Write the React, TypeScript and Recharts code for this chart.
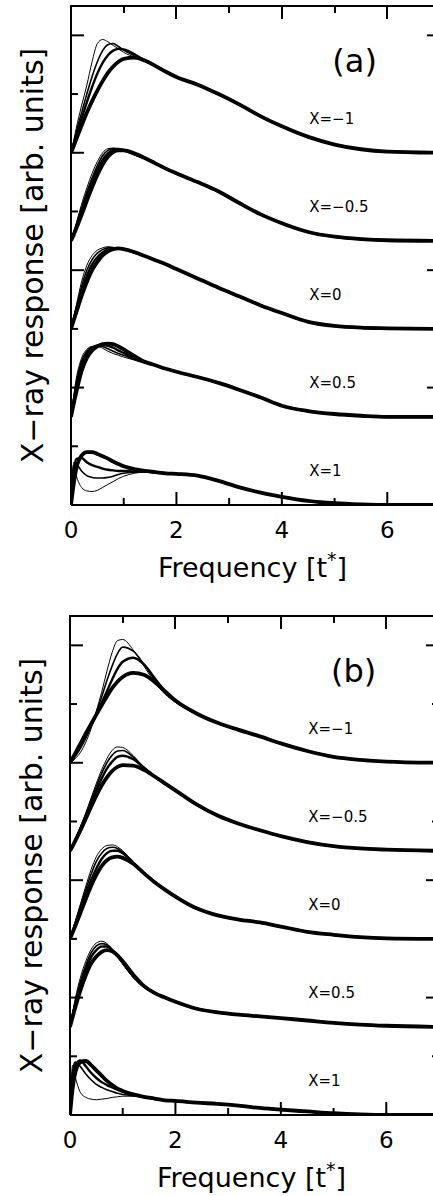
import React from 'react';
import { LineChart, Line, XAxis, YAxis, ReferenceDot } from 'recharts';

// frequency grid [t*]: dense part where the curves differ, then the shared tail
const FREQ_HEAD = [0, 0.05, 0.1, 0.2, 0.3, 0.4, 0.5, 0.6, 0.7, 0.8, 0.9, 1.0, 1.2, 1.4, 1.6, 1.8, 2.0];
const FREQ_TAIL = [2.4, 2.8, 3.2, 3.6, 4.0, 4.5, 5.0, 5.5, 6.0, 7.0];

// vertical offset of each X group (arb. units) and its label
const OFFSETS = [6, 4.5, 3, 1.5, 0];
const GROUP_LABELS = ['X=−1', 'X=−0.5', 'X=0', 'X=0.5', 'X=1'];
const X_TICKS = [0, 1, 2, 3, 4, 5, 6, 7];
const Y_TICKS = [0, 1, 2, 3, 4, 5, 6, 7, 8];
const X_MAX = 7;
const Y_MAX = 8.5;
// thinnest curve first (highest / earliest peak), thickest last
const LINE_WIDTHS = [1, 1.6, 2.4, 3.8];

// ---- panel (a) ----
const A_M1 = [
  [0, 0.2, 0.42, 0.8, 1.15, 1.55, 1.86, 1.93, 1.89, 1.83, 1.77, 1.71, 1.63, 1.56, 1.48, 1.38, 1.29],
  [0, 0.17, 0.35, 0.68, 1.0, 1.3, 1.55, 1.74, 1.84, 1.86, 1.81, 1.75, 1.65, 1.56, 1.48, 1.38, 1.29],
  [0, 0.14, 0.29, 0.58, 0.86, 1.12, 1.35, 1.53, 1.66, 1.74, 1.77, 1.76, 1.68, 1.57, 1.48, 1.38, 1.29],
  [0, 0.11, 0.23, 0.46, 0.68, 0.88, 1.06, 1.22, 1.36, 1.47, 1.55, 1.6, 1.62, 1.57, 1.48, 1.38, 1.29],
];
const A_M1_TAIL = [1.16, 1.0, 0.82, 0.62, 0.45, 0.27, 0.14, 0.06, 0.02, 0];

const A_M05 = [
  [0, 0.15, 0.3, 0.62, 0.9, 1.15, 1.35, 1.5, 1.57, 1.58, 1.56, 1.53, 1.46, 1.4, 1.32, 1.23, 1.15],
  [0, 0.13, 0.27, 0.56, 0.83, 1.07, 1.28, 1.45, 1.54, 1.57, 1.57, 1.54, 1.47, 1.4, 1.32, 1.23, 1.15],
  [0, 0.12, 0.24, 0.5, 0.76, 1.0, 1.21, 1.38, 1.49, 1.55, 1.56, 1.55, 1.48, 1.41, 1.32, 1.23, 1.15],
  [0, 0.1, 0.21, 0.44, 0.68, 0.91, 1.12, 1.3, 1.43, 1.51, 1.54, 1.54, 1.49, 1.41, 1.32, 1.23, 1.15],
];
const A_M05_TAIL = [1.0, 0.84, 0.64, 0.45, 0.3, 0.15, 0.07, 0.03, 0.01, 0];

const A_0 = [
  [0, 0.2, 0.4, 0.8, 1.08, 1.25, 1.34, 1.38, 1.4, 1.39, 1.37, 1.35, 1.29, 1.24, 1.17, 1.1, 1.02],
  [0, 0.18, 0.36, 0.72, 1.0, 1.18, 1.29, 1.35, 1.38, 1.38, 1.37, 1.35, 1.3, 1.24, 1.17, 1.1, 1.02],
  [0, 0.16, 0.32, 0.64, 0.9, 1.1, 1.22, 1.3, 1.35, 1.37, 1.37, 1.36, 1.3, 1.24, 1.17, 1.1, 1.02],
  [0, 0.14, 0.28, 0.56, 0.8, 1.0, 1.14, 1.25, 1.32, 1.36, 1.37, 1.36, 1.31, 1.24, 1.17, 1.1, 1.02],
];
const A_0_TAIL = [0.86, 0.7, 0.55, 0.4, 0.27, 0.12, 0.05, 0.02, 0.01, 0];

const A_05 = [
  [0, 0.35, 0.65, 1.0, 1.15, 1.2, 1.2, 1.17, 1.12, 1.08, 1.05, 1.02, 0.97, 0.92, 0.88, 0.82, 0.77],
  [0, 0.3, 0.58, 0.95, 1.12, 1.19, 1.21, 1.2, 1.16, 1.12, 1.08, 1.05, 0.98, 0.92, 0.88, 0.82, 0.77],
  [0, 0.26, 0.5, 0.88, 1.08, 1.18, 1.22, 1.23, 1.21, 1.18, 1.13, 1.09, 1.0, 0.93, 0.88, 0.82, 0.77],
  [0, 0.22, 0.42, 0.78, 1.0, 1.13, 1.2, 1.24, 1.25, 1.24, 1.2, 1.15, 1.04, 0.94, 0.88, 0.82, 0.77],
];
const A_05_TAIL = [0.68, 0.58, 0.46, 0.33, 0.19, 0.1, 0.05, 0.02, 0, 0];

const A_1 = [
  [0, 0.68, 0.5, 0.3, 0.24, 0.23, 0.25, 0.3, 0.35, 0.4, 0.45, 0.49, 0.54, 0.56, 0.56, 0.54, 0.53],
  [0, 0.72, 0.7, 0.58, 0.5, 0.47, 0.46, 0.46, 0.47, 0.49, 0.52, 0.54, 0.56, 0.57, 0.56, 0.54, 0.53],
  [0, 0.55, 0.78, 0.8, 0.73, 0.68, 0.65, 0.62, 0.6, 0.59, 0.58, 0.58, 0.57, 0.57, 0.56, 0.54, 0.53],
  [0, 0.35, 0.62, 0.84, 0.9, 0.9, 0.87, 0.83, 0.79, 0.74, 0.7, 0.66, 0.61, 0.58, 0.56, 0.54, 0.53],
];
const A_1_TAIL = [0.5, 0.41, 0.3, 0.21, 0.14, 0.07, 0.03, 0.01, 0, 0];

// ---- panel (b) ----
const B_M1 = [
  [0, 0.03, 0.07, 0.18, 0.35, 0.58, 0.88, 1.2, 1.56, 1.88, 2.08, 2.1, 1.92, 1.65, 1.38, 1.17, 1.03],
  [0, 0.05, 0.11, 0.25, 0.42, 0.62, 0.86, 1.12, 1.4, 1.65, 1.86, 1.97, 1.9, 1.68, 1.42, 1.2, 1.04],
  [0, 0.07, 0.14, 0.3, 0.46, 0.63, 0.82, 1.02, 1.22, 1.42, 1.6, 1.72, 1.79, 1.68, 1.45, 1.22, 1.05],
  [0, 0.08, 0.16, 0.33, 0.5, 0.66, 0.82, 0.98, 1.13, 1.27, 1.38, 1.46, 1.53, 1.5, 1.38, 1.22, 1.06],
];
const B_M1_TAIL = [0.84, 0.68, 0.56, 0.45, 0.33, 0.2, 0.1, 0.05, 0.02, 0];

const B_M05 = [
  [0, 0.1, 0.2, 0.42, 0.65, 0.9, 1.15, 1.38, 1.57, 1.71, 1.77, 1.76, 1.62, 1.42, 1.25, 1.13, 1.02],
  [0, 0.09, 0.19, 0.4, 0.62, 0.86, 1.1, 1.32, 1.5, 1.63, 1.7, 1.71, 1.6, 1.42, 1.26, 1.14, 1.03],
  [0, 0.09, 0.18, 0.38, 0.59, 0.81, 1.03, 1.23, 1.4, 1.52, 1.6, 1.62, 1.56, 1.42, 1.27, 1.15, 1.03],
  [0, 0.08, 0.17, 0.35, 0.55, 0.75, 0.94, 1.11, 1.25, 1.36, 1.43, 1.46, 1.45, 1.38, 1.27, 1.15, 1.03],
];
const B_M05_TAIL = [0.79, 0.6, 0.46, 0.35, 0.25, 0.15, 0.08, 0.04, 0.02, 0];

const B_0 = [
  [0, 0.15, 0.3, 0.6, 0.9, 1.18, 1.4, 1.53, 1.59, 1.6, 1.57, 1.5, 1.3, 1.1, 0.96, 0.84, 0.72],
  [0, 0.14, 0.28, 0.56, 0.84, 1.1, 1.32, 1.46, 1.54, 1.56, 1.54, 1.48, 1.3, 1.11, 0.96, 0.84, 0.72],
  [0, 0.12, 0.25, 0.5, 0.76, 1.0, 1.2, 1.36, 1.46, 1.5, 1.5, 1.46, 1.3, 1.12, 0.97, 0.84, 0.72],
  [0, 0.11, 0.22, 0.45, 0.68, 0.9, 1.09, 1.24, 1.34, 1.39, 1.4, 1.38, 1.28, 1.12, 0.97, 0.84, 0.72],
];
const B_0_TAIL = [0.52, 0.4, 0.33, 0.28, 0.21, 0.12, 0.07, 0.03, 0.01, 0];

const B_05 = [
  [0, 0.25, 0.48, 0.85, 1.12, 1.32, 1.43, 1.46, 1.42, 1.32, 1.2, 1.07, 0.84, 0.68, 0.58, 0.5, 0.43],
  [0, 0.22, 0.43, 0.78, 1.05, 1.26, 1.38, 1.42, 1.4, 1.32, 1.2, 1.08, 0.85, 0.68, 0.58, 0.5, 0.43],
  [0, 0.2, 0.38, 0.71, 0.98, 1.19, 1.31, 1.37, 1.37, 1.31, 1.21, 1.1, 0.87, 0.69, 0.58, 0.5, 0.43],
  [0, 0.17, 0.33, 0.63, 0.88, 1.08, 1.2, 1.28, 1.31, 1.29, 1.22, 1.12, 0.89, 0.7, 0.58, 0.5, 0.43],
];
const B_05_TAIL = [0.31, 0.25, 0.21, 0.18, 0.15, 0.11, 0.07, 0.04, 0.02, 0];

const B_1 = [
  [0, 0.85, 0.65, 0.38, 0.3, 0.27, 0.26, 0.27, 0.28, 0.3, 0.31, 0.32, 0.32, 0.3, 0.27, 0.25, 0.24],
  [0, 0.75, 0.9, 0.82, 0.7, 0.6, 0.52, 0.47, 0.43, 0.4, 0.37, 0.35, 0.33, 0.3, 0.27, 0.25, 0.24],
  [0, 0.6, 0.85, 0.93, 0.83, 0.72, 0.63, 0.56, 0.51, 0.47, 0.43, 0.4, 0.35, 0.31, 0.28, 0.25, 0.24],
  [0, 0.45, 0.72, 0.9, 0.92, 0.85, 0.76, 0.67, 0.58, 0.51, 0.45, 0.41, 0.35, 0.31, 0.28, 0.25, 0.24],
];
const B_1_TAIL = [0.21, 0.19, 0.16, 0.12, 0.09, 0.06, 0.03, 0.01, 0, 0];

const buildRows = (heads: number[][][], tails: number[][]) => {
  const freq = [...FREQ_HEAD, ...FREQ_TAIL];
  return freq.map((f, i) => {
    const row: Record<string, number> = { f };
    heads.forEach((group, gi) => {
      group.forEach((curve, ci) => {
        const v = i < FREQ_HEAD.length ? curve[i] : tails[gi][i - FREQ_HEAD.length];
        row[`g${gi}c${ci}`] = OFFSETS[gi] + v;
      });
    });
    return row;
  });
};

// chart box
const CHART_W = 450;
const CHART_H = 590;
const MARGIN = { top: 6, right: 9, bottom: 0, left: 0 };
const X_AXIS_H = 85;
const Y_AXIS_W = 71;
const PLOT_W = CHART_W - MARGIN.left - MARGIN.right - Y_AXIS_W - 1;

const FONT = '"DejaVu Sans", sans-serif';
const tickLen = (v: number) => (v % 2 === 0 ? 13 : 7);

const BottomTick = (p: any) => {
  const v = p.payload.value;
  return (
    <g>
      <line x1={p.x} y1={p.y} x2={p.x} y2={p.y - tickLen(v)} stroke="#000" strokeWidth={2} />
      {v % 2 === 0 && v < 7 ? (
        <text x={p.x} y={p.y + 33} textAnchor="middle" fontSize={23} fontFamily={FONT} fill="#000">
          {v}
        </text>
      ) : null}
    </g>
  );
};
const LeftTick = (p: any) => (
  <line x1={p.x} y1={p.y} x2={p.x + tickLen(p.payload.value)} y2={p.y} stroke="#000" strokeWidth={2} />
);
const RightTick = (p: any) => (
  <line x1={p.x} y1={p.y} x2={p.x - tickLen(p.payload.value)} y2={p.y} stroke="#000" strokeWidth={2} />
);

const XTitle = (p: any) => {
  const vb = p.viewBox || { x: 71, y: 505, width: 370, height: 85 };
  const cx = vb.x + vb.width / 2 - 3;
  return (
    <text x={cx} y={vb.y + 72} textAnchor="middle" fontSize={27} fontFamily={FONT} fill="#000">
      Frequency [t
      <tspan dy={-11} fontSize={19}>*</tspan>
      <tspan dy={11}>]</tspan>
    </text>
  );
};

const YTitle = (p: any) => {
  const vb = p.viewBox || { x: 0, y: 6, width: 71, height: 499 };
  const cx = 43;
  const cy = vb.y + vb.height / 2;
  return (
    <text
      x={cx}
      y={cy}
      transform={`rotate(-90 ${cx} ${cy})`}
      textAnchor="middle"
      fontSize={30}
      fontFamily={FONT}
      fill="#000"
    >
      X−ray response [arb. units]
    </text>
  );
};

const axisStyle = { stroke: '#000', strokeWidth: 2 };

// top edge of the frame with its inward ticks, laid over the chart
const TopFrame = () => (
  <>
    <div
      style={{
        position: 'absolute',
        left: Y_AXIS_W - 1,
        top: MARGIN.top - 1,
        width: PLOT_W + 12,
        height: 2,
        background: '#000',
      }}
    />
    {X_TICKS.map((v) => (
      <div
        key={`tt${v}`}
        style={{
          position: 'absolute',
          left: Y_AXIS_W + (v / X_MAX) * PLOT_W - 1,
          top: MARGIN.top - 1,
          width: 2,
          height: tickLen(v) + 1,
          background: '#000',
        }}
      />
    ))}
  </>
);

interface PanelProps {
  heads: number[][][];
  tails: number[][];
  tag: string;
}

const Panel = ({ heads, tails, tag }: PanelProps) => {
  const rows = buildRows(heads, tails);
  return (
    <LineChart width={CHART_W} height={CHART_H} data={rows} margin={MARGIN}>
      <XAxis
        dataKey="f"
        type="number"
        domain={[0, X_MAX]}
        ticks={X_TICKS}
        interval={0}
        height={X_AXIS_H}
        tickSize={0}
        tickMargin={0}
        tickLine={false}
        axisLine={axisStyle}
        tick={BottomTick}
        label={XTitle}
        allowDataOverflow
      />
      <YAxis
        type="number"
        domain={[0, Y_MAX]}
        ticks={Y_TICKS}
        interval={0}
        width={Y_AXIS_W}
        tickSize={0}
        tickMargin={0}
        tickLine={false}
        axisLine={axisStyle}
        tick={LeftTick}
        label={YTitle}
        allowDataOverflow
      />
      <YAxis
        yAxisId="right"
        orientation="right"
        type="number"
        domain={[0, Y_MAX]}
        ticks={Y_TICKS}
        interval={0}
        width={1}
        tickSize={0}
        tickMargin={0}
        tickLine={false}
        axisLine={axisStyle}
        tick={RightTick}
        allowDataOverflow
      />
      {OFFSETS.map((_, gi) =>
        [3, 2, 1, 0].map((ci) => {
          // the top group is bound to the right twin axis (same domain) so it is drawn
          const twin = gi === 0;
          return (
            <Line
              key={`g${gi}c${ci}`}
              dataKey={`g${gi}c${ci}`}
              yAxisId={twin ? 'right' : 0}
              type="monotone"
              stroke="#000"
              strokeWidth={LINE_WIDTHS[ci]}
              dot={false}
              activeDot={false}
              isAnimationActive={false}
            />
          );
        })
      )}
      {OFFSETS.map((off, gi) => (
        <ReferenceDot
          key={`lab${gi}`}
          x={4.52}
          y={off + 0.58}
          r={0}
          fill="none"
          stroke="none"
          label={(p: any) => (
            <text
              x={p.viewBox.x}
              y={p.viewBox.y}
              dominantBaseline="central"
              fontSize={15}
              fontFamily={FONT}
              fill="#000"
            >
              {GROUP_LABELS[gi]}
            </text>
          )}
        />
      ))}
      <ReferenceDot
        x={5.38}
        y={7.57}
        r={0}
        fill="none"
        stroke="none"
        label={(p: any) => (
          <text
            x={p.viewBox.x}
            y={p.viewBox.y}
            textAnchor="middle"
            dominantBaseline="central"
            fontSize={32}
            fontFamily={FONT}
            fill="#000"
          >
            {tag}
          </text>
        )}
      />
    </LineChart>
  );
};

export default function App() {
  return (
    <div
      style={{
        position: 'absolute',
        left: 0,
        top: 0,
        width: 433,
        height: 1196,
        overflow: 'hidden',
        background: '#fff',
      }}
    >
      <div style={{ position: 'absolute', left: 0, top: 0 }}>
        <Panel
          heads={[A_M1, A_M05, A_0, A_05, A_1]}
          tails={[A_M1_TAIL, A_M05_TAIL, A_0_TAIL, A_05_TAIL, A_1_TAIL]}
          tag="(a)"
        />
        <TopFrame />
      </div>
      <div style={{ position: 'absolute', left: -1, top: 610 }}>
        <Panel
          heads={[B_M1, B_M05, B_0, B_05, B_1]}
          tails={[B_M1_TAIL, B_M05_TAIL, B_0_TAIL, B_05_TAIL, B_1_TAIL]}
          tag="(b)"
        />
        <TopFrame />
      </div>
    </div>
  );
}
